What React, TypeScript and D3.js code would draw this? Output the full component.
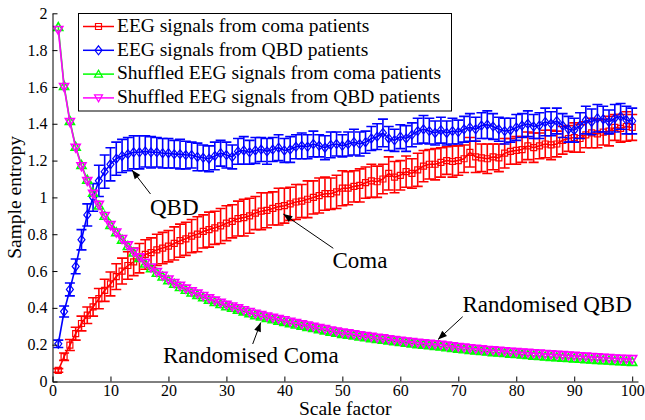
import React, { useEffect, useRef } from "react";
import * as d3 from "d3";

// scale factors 1..100
const scaleFactors = d3.range(1, 101);

const comaEntropy = [
  0.06, 0.135, 0.198, 0.26, 0.315, 0.36, 0.405, 0.45, 0.495, 0.53,
  0.57, 0.6, 0.63, 0.65, 0.67, 0.69, 0.7, 0.715, 0.725, 0.735,
  0.75, 0.765, 0.775, 0.79, 0.8, 0.815, 0.825, 0.835, 0.845, 0.86,
  0.87, 0.885, 0.89, 0.9, 0.915, 0.925, 0.93, 0.94, 0.95, 0.955,
  0.965, 0.975, 0.98, 0.99, 1.0, 1.01, 1.02, 1.02, 1.03, 1.05,
  1.05, 1.06, 1.065, 1.08, 1.09, 1.085, 1.1, 1.13, 1.11, 1.12,
  1.14, 1.13, 1.15, 1.17, 1.18, 1.18, 1.19, 1.2, 1.195, 1.2,
  1.21, 1.245, 1.22, 1.215, 1.21, 1.22, 1.215, 1.24, 1.25, 1.255,
  1.26, 1.28, 1.27, 1.28, 1.29, 1.285, 1.29, 1.31, 1.32, 1.325,
  1.32, 1.34, 1.35, 1.345, 1.355, 1.36, 1.38, 1.375, 1.385, 1.38,
];
const comaErr = [
  0.01, 0.02, 0.03, 0.035, 0.04, 0.045, 0.05, 0.055, 0.06, 0.065,
  0.07, 0.07, 0.075, 0.075, 0.08, 0.08, 0.08, 0.085, 0.085, 0.085,
  0.09, 0.09, 0.09, 0.09, 0.095, 0.09, 0.095, 0.09, 0.095, 0.095,
  0.09, 0.095, 0.1, 0.095, 0.09, 0.1, 0.095, 0.09, 0.1, 0.095,
  0.09, 0.095, 0.09, 0.1, 0.09, 0.095, 0.09, 0.085, 0.09, 0.095,
  0.09, 0.085, 0.09, 0.085, 0.09, 0.085, 0.08, 0.09, 0.085, 0.08,
  0.085, 0.08, 0.09, 0.085, 0.08, 0.085, 0.08, 0.075, 0.085, 0.08,
  0.075, 0.08, 0.085, 0.075, 0.08, 0.07, 0.075, 0.08, 0.07, 0.075,
  0.07, 0.075, 0.08, 0.07, 0.075, 0.08, 0.07, 0.075, 0.07, 0.08,
  0.075, 0.07, 0.08, 0.075, 0.07, 0.08, 0.07, 0.075, 0.08, 0.07,
];
const qbdEntropy = [
  0.205, 0.38, 0.5, 0.625, 0.77, 0.905, 1.0, 1.09, 1.14, 1.18,
  1.21, 1.225, 1.235, 1.245, 1.245, 1.25, 1.245, 1.245, 1.24, 1.24,
  1.235, 1.235, 1.23, 1.23, 1.22, 1.215, 1.21, 1.225, 1.24, 1.23,
  1.22, 1.25, 1.255, 1.245, 1.255, 1.26, 1.25, 1.26, 1.27, 1.255,
  1.26, 1.275, 1.28, 1.275, 1.29, 1.28, 1.27, 1.285, 1.29, 1.28,
  1.29, 1.3, 1.29, 1.3, 1.32, 1.33, 1.35, 1.32, 1.31, 1.33,
  1.32, 1.34, 1.36, 1.37, 1.36, 1.35, 1.365, 1.35, 1.36, 1.355,
  1.37, 1.38, 1.37, 1.39, 1.395, 1.385, 1.37, 1.36, 1.365, 1.38,
  1.39, 1.4, 1.385, 1.39, 1.41, 1.4, 1.415, 1.39, 1.37, 1.365,
  1.39, 1.42, 1.41, 1.43, 1.425, 1.41, 1.43, 1.44, 1.42, 1.415,
];
const qbdErr = [
  0.02, 0.03, 0.035, 0.04, 0.055, 0.06, 0.075, 0.085, 0.09, 0.09,
  0.09, 0.09, 0.09, 0.09, 0.09, 0.085, 0.085, 0.08, 0.08, 0.08,
  0.075, 0.08, 0.075, 0.07, 0.075, 0.07, 0.07, 0.075, 0.07, 0.07,
  0.065, 0.07, 0.075, 0.065, 0.07, 0.065, 0.07, 0.065, 0.07, 0.065,
  0.07, 0.065, 0.07, 0.065, 0.07, 0.06, 0.065, 0.07, 0.065, 0.06,
  0.065, 0.07, 0.065, 0.06, 0.065, 0.07, 0.075, 0.065, 0.06, 0.065,
  0.07, 0.065, 0.07, 0.075, 0.07, 0.065, 0.07, 0.065, 0.07, 0.065,
  0.07, 0.075, 0.065, 0.07, 0.075, 0.07, 0.065, 0.07, 0.065, 0.07,
  0.065, 0.07, 0.065, 0.07, 0.075, 0.065, 0.07, 0.065, 0.07, 0.065,
  0.07, 0.075, 0.07, 0.075, 0.07, 0.065, 0.075, 0.07, 0.075, 0.07,
];
const shuffledComa = [
  1.925, 1.605, 1.415, 1.275, 1.175, 1.095, 1.025, 0.955, 0.9, 0.85,
  0.81, 0.77, 0.735, 0.7, 0.67, 0.64, 0.615, 0.59, 0.57, 0.55,
  0.53, 0.513, 0.498, 0.483, 0.47, 0.457, 0.444, 0.432, 0.42, 0.408,
  0.4, 0.39, 0.38, 0.37, 0.36, 0.352, 0.345, 0.338, 0.33, 0.323,
  0.316, 0.309, 0.302, 0.296, 0.29, 0.283, 0.277, 0.27, 0.264, 0.258,
  0.254, 0.249, 0.244, 0.24, 0.235, 0.23, 0.227, 0.222, 0.218, 0.214,
  0.21, 0.206, 0.202, 0.199, 0.196, 0.193, 0.19, 0.186, 0.182, 0.178,
  0.175, 0.171, 0.168, 0.165, 0.162, 0.159, 0.157, 0.154, 0.151, 0.149,
  0.146, 0.143, 0.14, 0.138, 0.135, 0.133, 0.131, 0.129, 0.127, 0.125,
  0.123, 0.121, 0.119, 0.117, 0.115, 0.113, 0.111, 0.109, 0.108, 0.106,
];
const shuffledQbd = [
  1.91, 1.6, 1.41, 1.27, 1.17, 1.09, 1.02, 0.96, 0.9, 0.85,
  0.81, 0.775, 0.74, 0.705, 0.675, 0.645, 0.62, 0.595, 0.575, 0.555,
  0.535, 0.52, 0.505, 0.49, 0.478, 0.465, 0.452, 0.44, 0.428, 0.417,
  0.408, 0.398, 0.388, 0.378, 0.369, 0.361, 0.354, 0.347, 0.34, 0.333,
  0.325, 0.318, 0.311, 0.305, 0.298, 0.291, 0.285, 0.278, 0.272, 0.266,
  0.262, 0.257, 0.252, 0.248, 0.243, 0.238, 0.235, 0.23, 0.226, 0.222,
  0.218, 0.215, 0.211, 0.208, 0.205, 0.203, 0.2, 0.196, 0.192, 0.188,
  0.185, 0.181, 0.178, 0.175, 0.172, 0.17, 0.168, 0.165, 0.162, 0.16,
  0.158, 0.156, 0.154, 0.152, 0.15, 0.148, 0.146, 0.144, 0.142, 0.14,
  0.138, 0.136, 0.134, 0.132, 0.13, 0.128, 0.126, 0.124, 0.123, 0.122,
];

const xTicks = [0, 10, 20, 30, 40, 50, 60, 70, 80, 90, 100];
const yTicks = [0, 0.2, 0.4, 0.6, 0.8, 1, 1.2, 1.4, 1.6, 1.8, 2];
const legendLabels = [
  "EEG signals from coma patients",
  "EEG signals from QBD patients",
  "Shuffled EEG signals from coma patients",
  "Shuffled EEG signals from QBD patients",
];

const FONT = '"Liberation Serif", "Times New Roman", Times, "DejaVu Serif", serif';

function markerPath(kind: string, s: number) {
  if (kind === "square") return `M${-s},${-s}H${s}V${s}H${-s}Z`;
  if (kind === "diamond") return `M0,${-s - 1}L${s},0L0,${s + 1}L${-s},0Z`;
  if (kind === "up") return `M0,${-s}L${s},${s * 0.75}L${-s},${s * 0.75}Z`;
  return `M0,${s}L${s},${-s * 0.75}L${-s},${-s * 0.75}Z`;
}

export default function App() {
  const ref = useRef<SVGSVGElement>(null);

  useEffect(() => {
    const svg = d3.select(ref.current);
    svg.selectAll("*").remove();

    const x = d3.scaleLinear().domain([0, 101]).range([52.5, 638]);
    const y = d3.scaleLinear().domain([0, 2]).range([381.5, 13.3]);

    const line = d3
      .line<number>()
      .x((d, i) => x(scaleFactors[i]))
      .y((d) => y(d));

    const series = [
      { vals: comaEntropy, err: comaErr, color: "#ff0000", marker: "square", size: 3, sw: 1.2 },
      { vals: qbdEntropy, err: qbdErr, color: "#0000ff", marker: "diamond", size: 3.5, sw: 1.2 },
      { vals: shuffledComa, err: null, color: "#00ff00", marker: "up", size: 4.5, sw: 1.6 },
      { vals: shuffledQbd, err: null, color: "#ff00ff", marker: "down", size: 4.5, sw: 1.6 },
    ];

    series.forEach((s) => {
      const g = svg.append("g");
      if (s.err) {
        const eb = g.append("g").attr("stroke", s.color).attr("stroke-width", 1.6).attr("fill", "none");
        s.vals.forEach((v, i) => {
          const cx = x(scaleFactors[i]);
          const lo = y(v - s.err![i]);
          const hi = y(v + s.err![i]);
          eb.append("path").attr("d", `M${cx},${lo}V${hi}M${cx - 5},${lo}H${cx + 5}M${cx - 5},${hi}H${cx + 5}`);
        });
      }
      g.append("path")
        .datum(s.vals)
        .attr("fill", "none")
        .attr("stroke", s.color)
        .attr("stroke-width", 1.6)
        .attr("d", line);
      g.selectAll(".m")
        .data(s.vals)
        .enter()
        .append("path")
        .attr("transform", (d, i) => `translate(${x(scaleFactors[i])},${y(d)})`)
        .attr("d", markerPath(s.marker, s.size))
        .attr("fill", "none")
        .attr("stroke", s.color)
        .attr("stroke-width", s.sw);
    });

    // axes
    const xAxis = svg
      .append("g")
      .attr("transform", `translate(0,${y(0)})`)
      .call(d3.axisBottom(x).tickValues(xTicks).tickSizeInner(-5).tickSizeOuter(0).tickPadding(3));
    const yAxis = svg
      .append("g")
      .attr("transform", `translate(${x(0)},0)`)
      .call(
        d3.axisLeft(y).tickValues(yTicks).tickSizeInner(-5).tickSizeOuter(0).tickPadding(5)
          .tickFormat((d) => d3.format("~g")(d as number))
      );
    [xAxis, yAxis].forEach((a) => {
      a.attr("font-family", null).attr("font-size", null);
      a.selectAll("text").style("font-family", FONT).style("font-size", "16px").attr("fill", "#000");
      a.selectAll("line, path").attr("stroke", "#000");
    });

    svg.append("text")
      .attr("x", (x(0) + x(101)) / 2)
      .attr("y", 415)
      .attr("text-anchor", "middle")
      .style("font-family", FONT)
      .style("font-size", "19.5px")
      .text("Scale factor");
    svg.append("text")
      .attr("transform", `translate(21,${(y(0) + y(2)) / 2}) rotate(-90)`)
      .attr("text-anchor", "middle")
      .style("font-family", FONT)
      .style("font-size", "19.5px")
      .text("Sample entropy");

    // annotations
    const notes = [
      { text: "QBD", tx: 150, ty: 215, x1: 150.5, y1: 194, x2: 132, y2: 170 },
      { text: "Coma", tx: 332.5, ty: 268, x1: 333.3, y1: 248.3, x2: 283.3, y2: 214 },
      { text: "Randomised QBD", tx: 462.5, ty: 311.5, x1: 462.7, y1: 316.7, x2: 438, y2: 339.5 },
      { text: "Randomised Coma", tx: 163, ty: 363, x1: 252.7, y1: 344, x2: 260.7, y2: 322.5 },
    ];
    notes.forEach((n) => {
      svg.append("text")
        .attr("x", n.tx)
        .attr("y", n.ty)
        .style("font-family", FONT)
        .style("font-size", "23px")
        .text(n.text);
      svg.append("line")
        .attr("x1", n.x1).attr("y1", n.y1).attr("x2", n.x2).attr("y2", n.y2)
        .attr("stroke", "#000").attr("stroke-width", 1);
      const ang = Math.atan2(n.y2 - n.y1, n.x2 - n.x1);
      const len = 9, w = 3.5;
      const bx = n.x2 - len * Math.cos(ang), by = n.y2 - len * Math.sin(ang);
      const px = -Math.sin(ang) * w, py = Math.cos(ang) * w;
      svg.append("path")
        .attr("d", `M${n.x2},${n.y2}L${bx + px},${by + py}L${bx - px},${by - py}Z`)
        .attr("fill", "#000");
    });

    // legend
    const leg = svg.append("g");
    leg.append("rect")
      .attr("x", 78.5).attr("y", 13.5).attr("width", 373).attr("height", 97.5)
      .attr("fill", "#fff").attr("stroke", "#000").attr("stroke-width", 1);
    legendLabels.forEach((label, i) => {
      const s = series[i];
      const ly = 26.5 + i * 23.8;
      leg.append("line")
        .attr("x1", 83).attr("x2", 114).attr("y1", ly).attr("y2", ly)
        .attr("stroke", s.color).attr("stroke-width", 1.5);
      leg.append("path")
        .attr("transform", `translate(98.5,${ly})`)
        .attr("d", markerPath(s.marker, Math.min(s.size, 4)))
        .attr("fill", "none").attr("stroke", s.color).attr("stroke-width", 1.2);
      leg.append("text")
        .attr("x", 117).attr("y", ly + 5.3)
        .style("font-family", FONT).style("font-size", "19.5px")
        .text(label);
    });
  }, []);

  return (
    <svg
      ref={ref}
      width={645}
      height={420}
      style={{ position: "absolute", left: 0, top: 0, background: "#fff" }}
    />
  );
}
